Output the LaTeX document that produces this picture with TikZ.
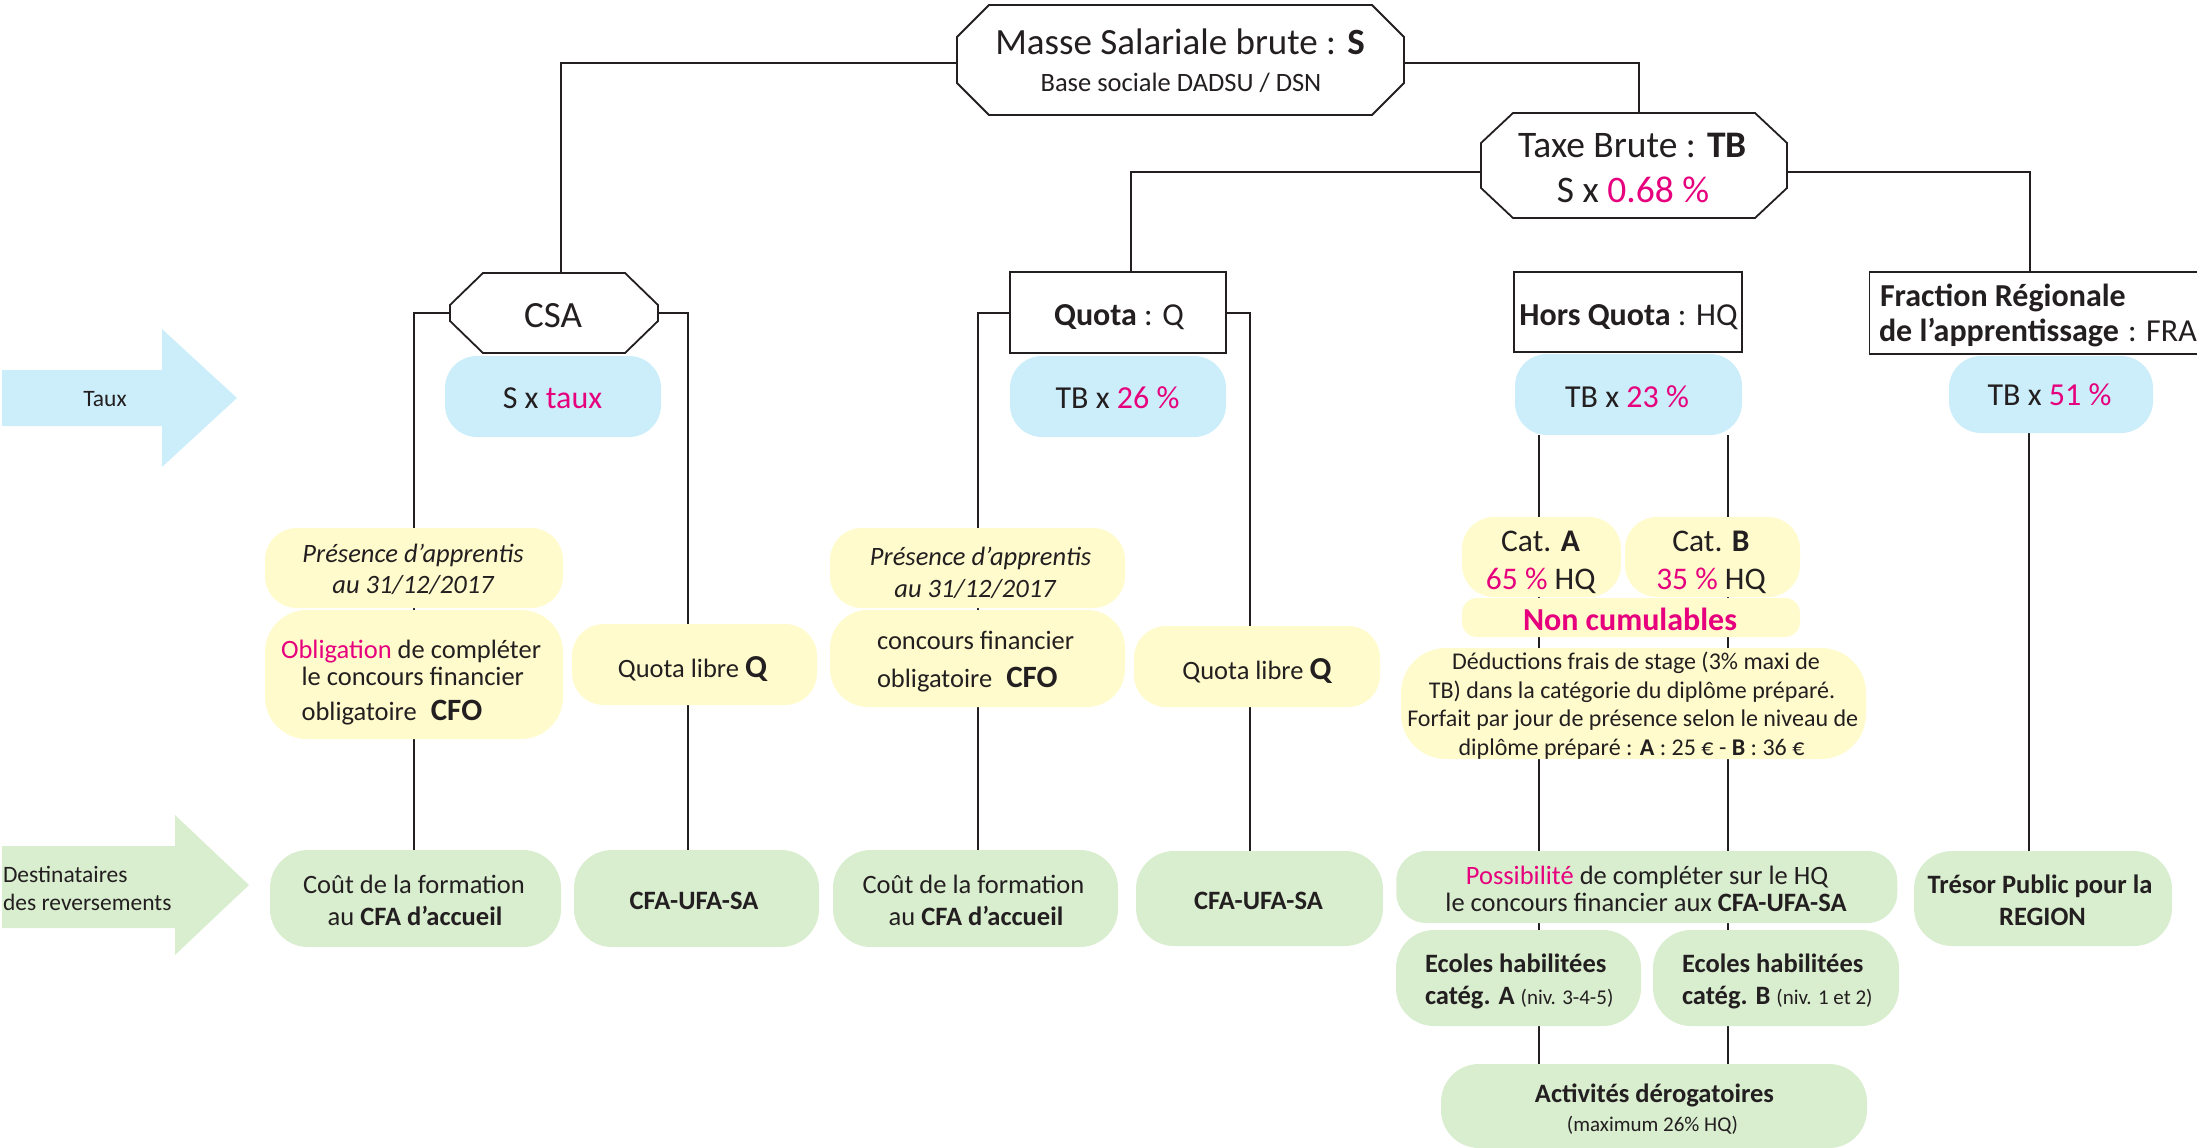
\documentclass[tikz,border=0pt]{standalone}
\usepackage{fontspec}
\setmainfont{Carlito}
\usetikzlibrary{calc}
\definecolor{bluebox}{RGB}{204,238,250}
\definecolor{yelbox}{RGB}{255,251,204}
\definecolor{grnbox}{RGB}{217,237,207}
\definecolor{mag}{RGB}{230,0,126}
\definecolor{ink}{RGB}{35,31,32}
\newcommand{\fs}[1]{\fontsize{#1}{#1}\selectfont}
\newcommand{\mg}[1]{\textcolor{mag}{#1}}
\pgfdeclarelayer{bg}
\pgfsetlayers{bg,main}
\newcommand{\chamf}[3]{%
  \draw[outl] ($(#1.north west)+(#2,0)$) -- ($(#1.north east)+(-#2,0)$) -- ($(#1.north east)+(0,#3)$) -- ($(#1.south east)+(0,-#3)$) -- ($(#1.south east)+(-#2,0)$) -- ($(#1.south west)+(#2,0)$) -- ($(#1.south west)+(0,-#3)$) -- ($(#1.north west)+(0,#3)$) -- cycle;}
\begin{document}
\begin{tikzpicture}[x=1pt,y=-1pt,
  frame/.style={inner sep=0pt, outer sep=0pt},
  bx/.style={frame, rounded corners=32pt},
  tauxbox/.style={bx, fill=bluebox},
  yelbx/.style={bx, fill=yelbox},
  grnbx/.style={bx, fill=grnbox},
  rectbox/.style={frame, draw=ink, line width=1.2pt, fill=white},
  outl/.style={draw=ink, line width=1.8pt, fill=white, line join=miter},
  conn/.style={draw=ink, line width=2pt},
  txt/.style={inner sep=0pt, outer sep=0pt, anchor=base, text=ink},
  txtl/.style={txt, anchor=base west},
]
\useasboundingbox (0,0) rectangle (2197,1148);
\clip (0,0) rectangle (2197,1148);

% ---------- left arrows ----------
\fill[bluebox] (2,370) -- (162,370) -- (162,329) -- (237,398) -- (162,467) -- (162,426) -- (2,426) -- cycle;
\node[txt, font=\fs{23.5}] (lbtaux) at (105,406) {Taux};
\fill[grnbox] (2,846) -- (175,846) -- (175,815) -- (249,885) -- (175,955) -- (175,928) -- (2,928) -- cycle;
\node[txtl, font=\fs{23.5}] (lbdest1) at (3,882) {Destinataires};
\node[txtl, font=\fs{23.5}] (lbdest2) at (3,910) {des reversements};

% ---------- header shapes (geometry only) ----------
\node[frame, minimum width=447pt, minimum height=110pt] (masse) at (1180.5,60) {};
\node[frame, minimum width=208pt, minimum height=80pt] (csa) at (554,313) {};
\node[frame, minimum width=306pt, minimum height=105pt] (tb) at (1634,165.5) {};
\node[rectbox, minimum width=216pt, minimum height=81pt] (quota) at (1118,312.5) {};
\node[rectbox, minimum width=228pt, minimum height=80pt] (hq) at (1628,312) {};
\node[rectbox, minimum width=360pt, minimum height=82pt] (fra) at (2049.5,313) {};

% ---------- taux boxes ----------
\node[tauxbox, minimum width=216pt, minimum height=81pt] (tcsa) at (553,396.5) {};
\node[tauxbox, minimum width=216pt, minimum height=81pt] (tq) at (1118,396.5) {};
\node[tauxbox, minimum width=227pt, minimum height=81pt] (thq) at (1628.5,394.5) {};
\node[tauxbox, minimum width=204pt, minimum height=77pt] (tfra) at (2051,394.5) {};

% ---------- yellow boxes ----------
\node[yelbx, minimum width=298pt, minimum height=80pt] (pres1) at (414,568) {};
\node[yelbx, rounded corners=42pt, minimum width=298pt, minimum height=129pt] (obl) at (414,674.5) {};
\node[yelbx, minimum width=245pt, minimum height=81pt] (ql1) at (694.5,664.5) {};
\node[yelbx, minimum width=295pt, minimum height=80pt] (pres2) at (977.5,568) {};
\node[yelbx, rounded corners=38pt, minimum width=295pt, minimum height=97pt] (conc2) at (977.5,658.5) {};
\node[yelbx, minimum width=246pt, minimum height=81pt] (ql2) at (1257,666.5) {};
\node[yelbx, minimum width=159pt, minimum height=80pt] (cata) at (1541.5,557) {};
\node[yelbx, minimum width=175pt, minimum height=80pt] (catb) at (1712.5,557) {};
\node[yelbx, rounded corners=15pt, minimum width=338pt, minimum height=39pt] (noncum) at (1631,617.5) {};
\node[yelbx, rounded corners=45pt, minimum width=465pt, minimum height=111pt] (ded) at (1633.5,703.5) {};

% ---------- green boxes ----------
\node[grnbx, rounded corners=38pt, minimum width=291pt, minimum height=97pt] (cout1) at (415.5,898.5) {};
\node[grnbx, rounded corners=38pt, minimum width=245pt, minimum height=97pt] (cfa1) at (696.5,898.5) {};
\node[grnbx, rounded corners=38pt, minimum width=285pt, minimum height=97pt] (cout2) at (975.5,898.5) {};
\node[grnbx, rounded corners=38pt, minimum width=247pt, minimum height=95pt] (cfa2) at (1259.5,898.5) {};
\node[grnbx, rounded corners=30pt, minimum width=501pt, minimum height=72pt] (poss) at (1646.75,887) {};
\node[grnbx, rounded corners=38pt, minimum width=258pt, minimum height=95pt] (tresor) at (2043,898.5) {};
\node[grnbx, rounded corners=38pt, minimum width=245pt, minimum height=96pt] (eca) at (1518.5,978) {};
\node[grnbx, rounded corners=38pt, minimum width=246pt, minimum height=96pt] (ecb) at (1776,978) {};
\node[grnbx, rounded corners=38pt, minimum width=426pt, minimum height=84pt] (act) at (1654,1106) {};

% ---------- connectors and chamfered outlines (behind) ----------
\begin{pgfonlayer}{bg}
  \draw[conn] ($(masse.west)+(0,3)$) -| ($(csa.north)+(7,0)$);
  \draw[conn] ($(masse.east)+(0,3)$) -| ($(tb.north)+(5,0)$);
  \draw[conn] ($(tb.west)+(0,6.5)$) -| ($(quota.north)+(13,0)$);
  \draw[conn] ($(tb.east)+(0,6.5)$) -| ($(fra.north west)+(160.5,0)$);
  \draw[conn] ($(tb.south)+(1,0)$) -- ($(tb.south)+(1,0)$ |- hq.north);
  \draw[conn] (csa.west) -| (pres1.center |- cout1.north);
  \draw[conn] (csa.east) -| ($(cfa1.north)+(-8.5,0)$);
  \draw[conn] (quota.west) -| (pres2.center |- cout2.north);
  \draw[conn] (quota.east) -| ($(cfa2.north)+(-9.5,0)$);
  \coordinate (hqa) at ($(thq.south)+(-89.5,0)$);
  \coordinate (hqb) at ($(thq.south)+(99,0)$);
  \coordinate (frav) at ($(tfra.south)+(-22,0)$);
  \draw[conn] (hqa) -- (hqa |- act.north);
  \draw[conn] (hqb) -- (hqb |- act.north);
  \draw[conn] (frav) -- (frav |- tresor.north);
  \chamf{masse}{32}{32}
  \chamf{csa}{33}{32}
  \chamf{tb}{32}{30}
\end{pgfonlayer}

% ---------- texts ----------
\node[txt, font=\fs{37}] (tmasse1) at (1180,55) {Masse Salariale brute : \textbf{S}};
\node[txt, font=\fs{26.5}] (tmasse2) at (1181,91) {Base sociale DADSU / DSN};
\node[txt, font=\fs{37}] (tcsa0) at (553,327) {CSA};
\node[txt, font=\fs{37.5}] (ttb1) at (1632.5,157) {Taxe Brute : \textbf{TB}};
\node[txt, font=\fs{37.5}] (ttb2) at (1633,202) {S x \mg{0.68 \%}};
\node[txt, font=\fs{32}] (tquota) at (1119,325) {\textbf{Quota} : Q};
\node[txt, font=\fs{32}] (thq0) at (1628.5,325) {\textbf{Hors Quota} : HQ};
\node[txtl, font=\fs{32}] (tfra1) at (1880,306) {\textbf{Fraction Régionale}};
\node[txtl, font=\fs{32}] (tfra2) at (1879,341) {\textbf{de l’apprentissage}};
\node[txtl, font=\fs{32}] (tfra3) at (2128,341) {: FRA};

\node[txt, font=\fs{32}] (xcsa) at (552.5,408) {S x \mg{taux}};
\node[txt, font=\fs{32}] (xq) at (1117.5,408) {TB x \mg{26 \%}};
\node[txt, font=\fs{32}] (xhq) at (1627,407) {TB x \mg{23 \%}};
\node[txt, font=\fs{32}] (xfra) at (2049.5,405) {TB x \mg{51 \%}};

\node[txt, font=\fs{26.5}\itshape] (p1a) at (413,562) {Présence d’apprentis};
\node[txt, font=\fs{26.5}\itshape] (p1b) at (413,593) {au 31/12/2017};
\node[txt, font=\fs{26.5}] (o1) at (411,658) {\mg{Obligation} de compléter};
\node[txtl, font=\fs{26.5}] (o2) at (301.6,685) {le concours financier};
\node[txtl, font=\fs{26.5}] (o3) at (301.6,720) {obligatoire\hspace{14pt}{\fs{31}\bfseries CFO}};
\node[txt, font=\fs{26.5}] (q1) at (692.5,677) {Quota libre {\fs{32}\bfseries Q}};
\node[txt, font=\fs{26.5}\itshape] (p2a) at (980.5,565) {Présence d’apprentis};
\node[txt, font=\fs{26.5}\itshape] (p2b) at (975,597) {au 31/12/2017};
\node[txtl, font=\fs{26.5}] (c2a) at (877,649) {concours financier};
\node[txtl, font=\fs{26.5}] (c2b) at (877,687) {obligatoire\hspace{14pt}{\fs{31}\bfseries CFO}};
\node[txt, font=\fs{26.5}] (q2) at (1257,679) {Quota libre {\fs{32}\bfseries Q}};

\node[txt, font=\fs{31.5}] (ca1) at (1540.5,551) {Cat. \textbf{A}};
\node[txt, font=\fs{31.5}] (ca2) at (1540.7,589) {\mg{65 \%} HQ};
\node[txt, font=\fs{31.5}] (cb1) at (1711,551) {Cat. \textbf{B}};
\node[txt, font=\fs{31.5}] (cb2) at (1711,589) {\mg{35 \%} HQ};
\node[txt, font=\fs{32}\bfseries, text=mag] (nc) at (1630,630) {Non cumulables};
\node[txt, font=\fs{24}] (d1) at (1636,669) {Déductions frais de stage (3\% maxi de};
\node[txt, font=\fs{24}] (d2) at (1632,698) {TB) dans la catégorie du diplôme préparé.};
\node[txt, font=\fs{24}] (d3) at (1632.7,726) {Forfait par jour de présence selon le niveau de};
\node[txt, font=\fs{24}] (d4) at (1631.5,755) {diplôme préparé : \textbf{A} : 25 € - \textbf{B} : 36 €};

\node[txt, font=\fs{26.5}] (g1a) at (414,893) {Coût de la formation};
\node[txt, font=\fs{26.5}] (g1b) at (415,925) {au \textbf{CFA d’accueil}};
\node[txt, font=\fs{26.5}\bfseries] (g2) at (694,909) {CFA-UFA-SA};
\node[txt, font=\fs{26.5}] (g3a) at (973.5,893) {Coût de la formation};
\node[txt, font=\fs{26.5}] (g3b) at (976,925) {au \textbf{CFA d’accueil}};
\node[txt, font=\fs{26.5}\bfseries] (g4) at (1258.5,909) {CFA-UFA-SA};
\node[txt, font=\fs{26.5}] (g5a) at (1647,884) {\mg{Possibilité} de compléter sur le HQ};
\node[txt, font=\fs{26.5}] (g5b) at (1646,911) {le concours financier aux \textbf{CFA-UFA-SA}};
\node[txt, font=\fs{26.5}\bfseries] (g6a) at (2040,893) {Trésor Public pour la};
\node[txt, font=\fs{26.5}\bfseries] (g6b) at (2042.5,925.5) {REGION};
\node[txtl, font=\fs{26.5}\bfseries] (g7a) at (1425,972) {Ecoles habilitées};
\node[txtl, font=\fs{26.5}\bfseries] (g7b) at (1425,1004) {catég. A {\fs{21}\mdseries (niv. 3-4-5)}};
\node[txtl, font=\fs{26.5}\bfseries] (g8a) at (1682,972) {Ecoles habilitées};
\node[txtl, font=\fs{26.5}\bfseries] (g8b) at (1682,1004) {catég. B {\fs{21}\mdseries (niv. 1 et 2)}};
\node[txt, font=\fs{26.5}\bfseries] (g9a) at (1654.5,1102) {Activités dérogatoires};
\node[txt, font=\fs{21}] (g9b) at (1652.5,1131) {(maximum 26\% HQ)};
\end{tikzpicture}
\end{document}
